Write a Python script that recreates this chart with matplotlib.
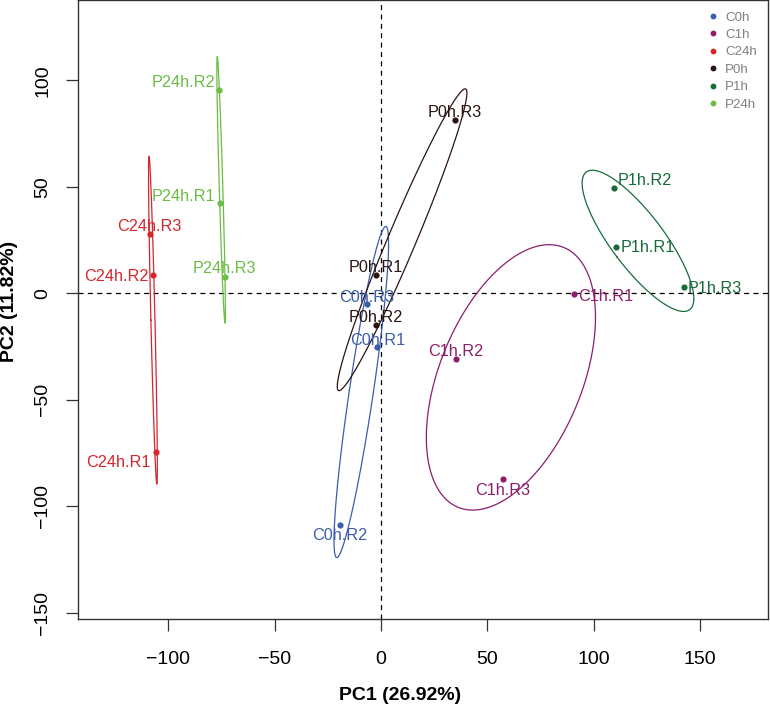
import numpy as np
import matplotlib
matplotlib.use('Agg')
import matplotlib.pyplot as plt
from matplotlib.lines import Line2D

plt.rcParams['font.family'] = ['Liberation Sans', 'DejaVu Sans']

# PCA scores
groups = ['C0h', 'C1h', 'C24h', 'P0h', 'P1h', 'P24h']
group_colors = ['#3B5DAB', '#8C1E6B', '#D4262C', '#2B1414', '#196B3A', '#6BBD45']
samples = ['C0h.R1', 'C0h.R2', 'C0h.R3',
           'C1h.R1', 'C1h.R2', 'C1h.R3',
           'C24h.R1', 'C24h.R2', 'C24h.R3',
           'P0h.R1', 'P0h.R2', 'P0h.R3',
           'P1h.R1', 'P1h.R2', 'P1h.R3',
           'P24h.R1', 'P24h.R2', 'P24h.R3']
sample_group = [0, 0, 0, 1, 1, 1, 2, 2, 2, 3, 3, 3, 4, 4, 4, 5, 5, 5]
pc1 = [-1.7, -19.3, -6.7,
       90.9, 35.1, 57.2,
       -105.8, -106.9, -108.7,
       -2.5, -2.5, 34.8,
       110.4, 109.7, 142.2,
       -75.6, -76.2, -73.5]
pc2 = [-25.1, -108.8, -5.2,
       -0.5, -30.7, -87.3,
       -74.5, 8.5, 28.0,
       8.7, -14.7, 81.4,
       21.6, 49.4, 2.8,
       42.3, 95.6, 7.8]
pc1_label = 'PC1 (26.92%)'
pc2_label = 'PC2 (11.82%)'

# label placement (pixel offsets from the point, alignment)
label_pos = [(0, 7.7, 'center'), (0, -9.3, 'center'), (0, 8.3, 'center'),
             (4, -0.7, 'left'), (0, 8, 'center'), (0, -9.7, 'center'),
             (-5, -9.7, 'right'), (-4.4, 0, 'right'), (0, 8, 'center'),
             (0, 9, 'center'), (0, 8.7, 'center'), (0, 9, 'center'),
             (4.3, 0.6, 'left'), (3.7, 9, 'left'), (3.7, 0, 'left'),
             (-5.3, 8, 'right'), (-4, 8, 'right'), (0, 9, 'center')]

pc1 = np.array(pc1)
pc2 = np.array(pc2)
sample_group = np.array(sample_group)

fig = plt.figure(figsize=(7.7, 7.05), dpi=100)
ax = fig.add_axes([78.3 / 770, 1 - 619.3 / 705, 690 / 770, 619.3 / 705])

ax.axhline(0, color='black', lw=0.9, ls=(0, (4, 3.5)), zorder=1)
ax.axvline(0, color='black', lw=0.9, ls=(0, (4, 3.5)), zorder=1)

# 50% data ellipses: radius sqrt(2 * F(0.5; 2, n-1)) = sqrt(2) for n = 3
scale = np.sqrt(2)
t = np.linspace(0, 2 * np.pi, 400)
for gi, col in enumerate(group_colors):
    m = sample_group == gi
    xy = np.column_stack([pc1[m], pc2[m]])
    centre = xy.mean(axis=0)
    cov = np.cov(xy, rowvar=False)
    vals, vecs = np.linalg.eigh(cov)
    circle = np.column_stack([np.cos(t), np.sin(t)])
    ell = centre + scale * (circle * np.sqrt(vals)) @ vecs.T
    ax.plot(ell[:, 0], ell[:, 1], color=col, lw=0.9, zorder=2)

for gi, col in enumerate(group_colors):
    m = sample_group == gi
    ax.scatter(pc1[m], pc2[m], s=20, color=col, lw=0, zorder=3)

for i, name in enumerate(samples):
    dx, dy, ha = label_pos[i]
    ax.annotate(name, (pc1[i], pc2[i]), xytext=(dx, dy - 5.8),
                textcoords='offset pixels', ha=ha, va='baseline',
                fontsize=11.7, color=group_colors[sample_group[i]], zorder=4)

ax.set_xlim(-142.2, 182.0)
ax.set_ylim(-153.1, 137.7)
ax.set_xticks([-100, -50, 0, 50, 100, 150])
ax.set_yticks([-150, -100, -50, 0, 50, 100])
ax.set_xticklabels(['\u2212100', '\u221250', '0', '50', '100', '150'])
ax.set_yticklabels(['\u2212150', '\u2212100', '\u221250', '0', '50', '100'])
ax.tick_params(direction='out', length=8.5, width=0.9, color='#333333',
               labelsize=14, pad=11)
ax.tick_params(axis='x', pad=14)
ax.tick_params(axis='y', labelrotation=90)
for lab in ax.get_yticklabels():
    lab.set_va('center')
for s in ax.spines.values():
    s.set_linewidth(1.0)
    s.set_color('#333333')

fig.text(400 / 770, 1 - 695 / 705, pc1_label, ha='center', va='center',
         fontsize=14, fontweight='bold')
fig.text(10 / 770, 1 - 301 / 705, pc2_label, ha='center', va='center',
         rotation=90, fontsize=14, fontweight='bold')

handles = [Line2D([], [], marker='o', ls='', color=c, markersize=4.2, markeredgewidth=0)
           for c in group_colors]
leg = ax.legend(handles, groups, loc='upper right', frameon=False, fontsize=9.6,
                labelspacing=0.38, handletextpad=0.35, handlelength=1.2,
                borderaxespad=0.45, borderpad=0.4)
for txt in leg.get_texts():
    txt.set_color('#808080')

fig.savefig('out.png', dpi=100)
